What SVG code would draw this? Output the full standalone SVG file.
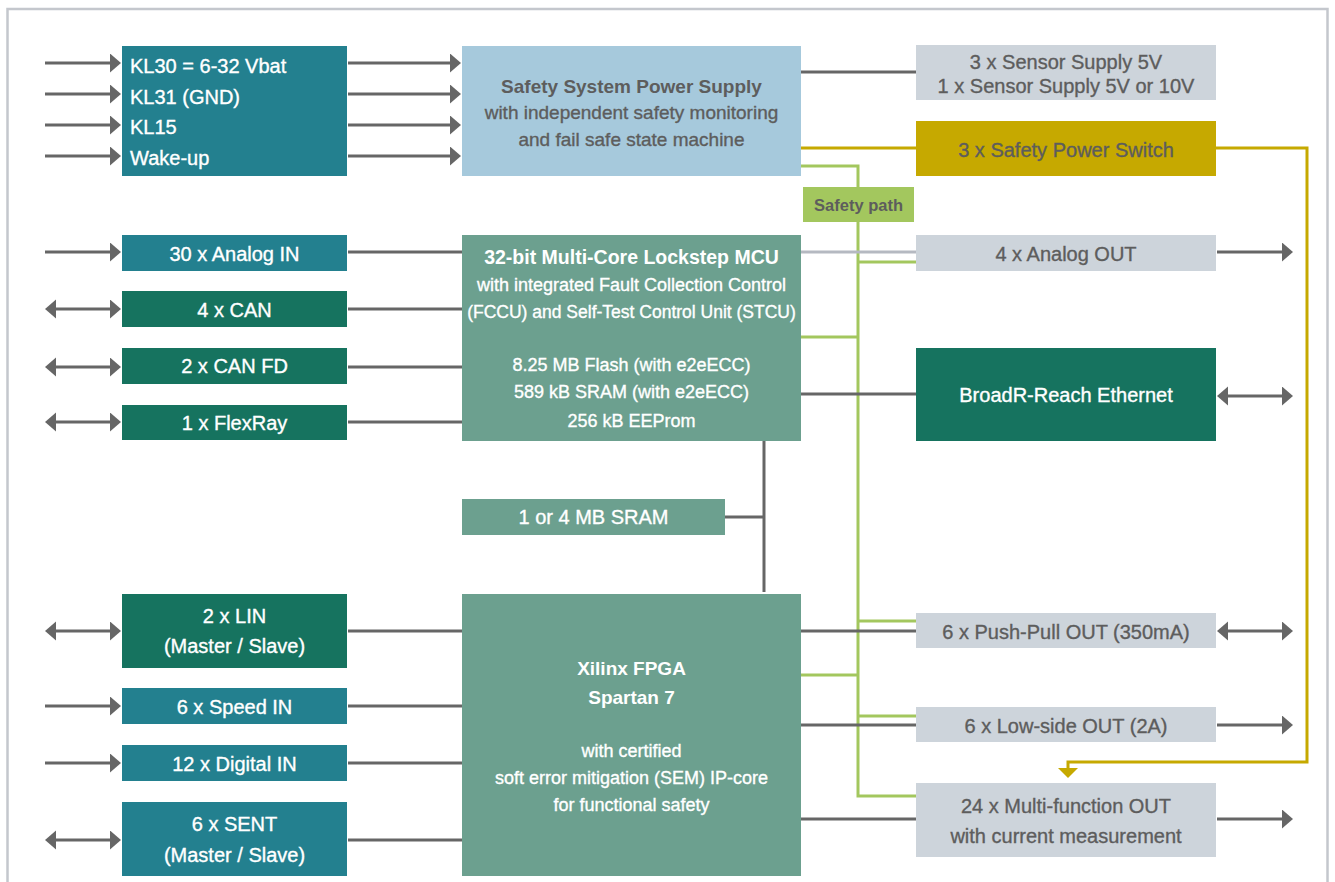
<svg xmlns="http://www.w3.org/2000/svg" width="1335" height="882" viewBox="0 0 1335 882">
<defs>
<marker id="ah" markerUnits="userSpaceOnUse" markerWidth="12" markerHeight="20" refX="7" refY="9.5" orient="auto-start-reverse" viewBox="0 0 12 20">
<path d="M0,0 L11,9.5 L0,19 Z" fill="#666666"/>
</marker>
<marker id="ahg" markerUnits="userSpaceOnUse" markerWidth="12" markerHeight="22" refX="6" refY="10" orient="auto" viewBox="0 0 12 22">
<path d="M0,0 L10,10 L0,20 Z" fill="#c6a900"/>
</marker>
<style>
text{font-family:"Liberation Sans",Arial,sans-serif;text-anchor:middle;font-size:20px}
.w{fill:#ffffff;stroke:#ffffff;stroke-width:0.35px}
.g{fill:#5d5d5d;stroke:#5d5d5d;stroke-width:0.35px}
.b{font-weight:bold;stroke-width:0}
.s{font-size:18px}
.teal{fill:#23808f}
.dg{fill:#16735f}
.mg{fill:#6ca08f}
.lb{fill:#a6c9dc}
.gr{fill:#cdd4db}
.gold{fill:#c6a900}
.sp{fill:#a3c75e}
.ln{stroke:#666666;stroke-width:3;fill:none}
.la{stroke:#666666;stroke-width:3;fill:none;marker-end:url(#ah)}
.lb2{stroke:#666666;stroke-width:3;fill:none;marker-end:url(#ah);marker-start:url(#ah)}
.green{stroke:#a3c75e;stroke-width:3;fill:none}
.goldl{stroke:#c6a900;stroke-width:3;fill:none}
.lgray{stroke:#b5b9c1;stroke-width:3;fill:none}
</style>
</defs>
<rect x="7.5" y="9" width="1320" height="900" fill="none" stroke="#c4c7cd" stroke-width="2.5"/>

<g id="connectors">
<line class="la" x1="45" y1="63" x2="117" y2="63"/>
<line class="la" x1="45" y1="94" x2="117" y2="94"/>
<line class="la" x1="45" y1="125" x2="117" y2="125"/>
<line class="la" x1="45" y1="156" x2="117" y2="156"/>
<line class="la" x1="348" y1="63" x2="457" y2="63"/>
<line class="la" x1="348" y1="94" x2="457" y2="94"/>
<line class="la" x1="348" y1="125" x2="457" y2="125"/>
<line class="la" x1="348" y1="156" x2="457" y2="156"/>
<line class="la" x1="45" y1="252" x2="117" y2="252"/>
<line class="lb2" x1="49" y1="309" x2="117" y2="309"/>
<line class="lb2" x1="49" y1="367" x2="117" y2="367"/>
<line class="lb2" x1="49" y1="422" x2="117" y2="422"/>
<line class="ln" x1="348" y1="252" x2="462" y2="252"/>
<line class="ln" x1="348" y1="309" x2="462" y2="309"/>
<line class="ln" x1="348" y1="367" x2="462" y2="367"/>
<line class="ln" x1="348" y1="422" x2="462" y2="422"/>
<line class="lb2" x1="49" y1="631" x2="117" y2="631"/>
<line class="la" x1="45" y1="706" x2="117" y2="706"/>
<line class="la" x1="45" y1="763" x2="117" y2="763"/>
<line class="lb2" x1="49" y1="840" x2="117" y2="840"/>
<line class="ln" x1="348" y1="631" x2="462" y2="631"/>
<line class="ln" x1="348" y1="706" x2="462" y2="706"/>
<line class="ln" x1="348" y1="763" x2="462" y2="763"/>
<line class="ln" x1="348" y1="840" x2="462" y2="840"/>
<path class="ln" d="M764,441 V592"/>
<path class="ln" d="M725,517 H764"/>
<path class="green" d="M801,166 H858 V796 H916"/>
<path class="green" d="M858,262 H916"/>
<path class="green" d="M801,337 H858"/>
<path class="green" d="M858,621 H916"/>
<path class="green" d="M801,675 H858"/>
<path class="green" d="M858,716 H916"/>
<path class="goldl" d="M801,148 H916"/>
<path class="goldl" d="M1216,148 H1307 V762 H1068 V774" marker-end="url(#ahg)"/>
<line class="ln" x1="801" y1="72" x2="916" y2="72"/>
<line class="lgray" x1="801" y1="252" x2="916" y2="252"/>
<line class="ln" x1="801" y1="394" x2="916" y2="394"/>
<line class="ln" x1="801" y1="631" x2="916" y2="631"/>
<line class="ln" x1="801" y1="725" x2="916" y2="725"/>
<line class="ln" x1="801" y1="819" x2="916" y2="819"/>
<line class="la" x1="1217" y1="252" x2="1289" y2="252"/>
<line class="lb2" x1="1221" y1="396" x2="1289" y2="396"/>
<line class="lb2" x1="1221" y1="631" x2="1289" y2="631"/>
<line class="la" x1="1217" y1="725" x2="1289" y2="725"/>
<line class="la" x1="1217" y1="819" x2="1289" y2="819"/>
</g>

<g id="kl-inputs">
<rect class="teal" x="122" y="46" width="225" height="130"/>
<text class="w" x="130" y="73" style="text-anchor:start">KL30 = 6-32 Vbat</text>
<text class="w" x="130" y="104" style="text-anchor:start">KL31 (GND)</text>
<text class="w" x="130" y="134" style="text-anchor:start">KL15</text>
<text class="w" x="130" y="165" style="text-anchor:start">Wake-up</text>
</g>

<g id="power-supply">
<rect class="lb" x="462" y="46" width="339" height="130"/>
<text class="g b" x="631.5" y="93" style="font-size:19px">Safety System Power Supply</text>
<text class="g" x="631.5" y="119" style="font-size:19px">with independent safety monitoring</text>
<text class="g" x="631.5" y="146" style="font-size:19px">and fail safe state machine</text>
</g>

<g id="sensor-supply">
<rect class="gr" x="916" y="45" width="300" height="55"/>
<text class="g" x="1066" y="69">3 x Sensor Supply 5V</text>
<text class="g" x="1066" y="93">1 x Sensor Supply 5V or 10V</text>
</g>

<g id="safety-power-switch">
<rect class="gold" x="916" y="121" width="300" height="55"/>
<text class="g" x="1066" y="157">3 x Safety Power Switch</text>
</g>

<g id="safety-path">
<rect class="sp" x="803" y="187" width="111" height="35"/>
<text class="g b" x="858.5" y="211" style="font-size:16.5px">Safety path</text>
</g>

<g id="analog-in">
<rect class="teal" x="122" y="235" width="225" height="36"/>
<text class="w" x="234.5" y="261">30 x Analog IN</text>
</g>
<g id="can">
<rect class="dg" x="122" y="291" width="225" height="36"/>
<text class="w" x="234.5" y="317">4 x CAN</text>
</g>
<g id="can-fd">
<rect class="dg" x="122" y="348" width="225" height="36"/>
<text class="w" x="234.5" y="373">2 x CAN FD</text>
</g>
<g id="flexray">
<rect class="dg" x="122" y="405" width="225" height="35"/>
<text class="w" x="234.5" y="430">1 x FlexRay</text>
</g>

<g id="mcu">
<rect class="mg" x="462" y="235" width="339" height="206"/>
<text class="w b" x="631.5" y="264" style="font-size:19.5px">32-bit Multi-Core Lockstep MCU</text>
<text class="w s" x="631.5" y="291">with integrated Fault Collection Control</text>
<text class="w s" x="631.5" y="318" style="font-size:17.5px">(FCCU) and Self-Test Control Unit (STCU)</text>
<text class="w s" x="631.5" y="371">8.25 MB Flash (with e2eECC)</text>
<text class="w s" x="631.5" y="398">589 kB SRAM (with e2eECC)</text>
<text class="w s" x="631.5" y="427">256 kB EEProm</text>
</g>

<g id="analog-out">
<rect class="gr" x="916" y="235" width="300" height="36"/>
<text class="g" x="1066" y="261">4 x Analog OUT</text>
</g>

<g id="broadr">
<rect class="dg" x="916" y="348" width="300" height="93"/>
<text class="w" x="1066" y="402">BroadR-Reach Ethernet</text>
</g>

<g id="sram">
<rect class="mg" x="462" y="499" width="263" height="36"/>
<text class="w" x="593.5" y="524">1 or 4 MB SRAM</text>
</g>

<g id="lin">
<rect class="dg" x="122" y="594" width="225" height="74"/>
<text class="w" x="234.5" y="623">2 x LIN</text>
<text class="w" x="234.5" y="653">(Master / Slave)</text>
</g>
<g id="speed-in">
<rect class="teal" x="122" y="688" width="225" height="36"/>
<text class="w" x="234.5" y="714">6 x Speed IN</text>
</g>
<g id="digital-in">
<rect class="teal" x="122" y="745" width="225" height="36"/>
<text class="w" x="234.5" y="771">12 x Digital IN</text>
</g>
<g id="sent">
<rect class="teal" x="122" y="802" width="225" height="74"/>
<text class="w" x="234.5" y="831">6 x SENT</text>
<text class="w" x="234.5" y="862">(Master / Slave)</text>
</g>

<g id="fpga">
<rect class="mg" x="462" y="594" width="339" height="282"/>
<text class="w b" x="631.5" y="675" style="font-size:19px">Xilinx FPGA</text>
<text class="w b" x="631.5" y="704" style="font-size:19px">Spartan 7</text>
<text class="w s" x="631.5" y="757">with certified</text>
<text class="w s" x="631.5" y="784">soft error mitigation (SEM) IP-core</text>
<text class="w s" x="631.5" y="811">for functional safety</text>
</g>

<g id="push-pull">
<rect class="gr" x="916" y="613" width="300" height="35"/>
<text class="g" x="1066" y="639">6 x Push-Pull OUT (350mA)</text>
</g>
<g id="low-side">
<rect class="gr" x="916" y="707" width="300" height="35"/>
<text class="g" x="1066" y="733">6 x Low-side OUT (2A)</text>
</g>
<g id="multi-function">
<rect class="gr" x="916" y="783" width="300" height="74"/>
<text class="g" x="1066" y="813">24 x Multi-function OUT</text>
<text class="g" x="1066" y="843">with current measurement</text>
</g>
</svg>
